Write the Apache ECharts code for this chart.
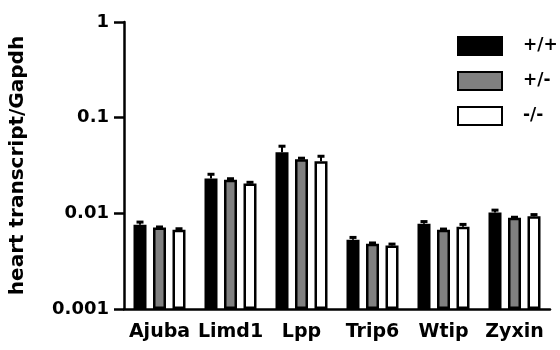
<!DOCTYPE html>
<html>
<head>
<meta charset="utf-8">
<script src="https://cdn.jsdelivr.net/npm/echarts@6/dist/echarts.min.js"></script>
<style>
  html, body { margin: 0; padding: 0; background: #fff; }
  #chart { width: 560px; height: 350px; }
</style>
</head>
<body>
<div id="chart"></div>
<script>
  // genes on the x axis
  var categories = ['Ajuba', 'Limd1', 'Lpp', 'Trip6', 'Wtip', 'Zyxin'];
  var seriesNames = ['+/+', '+/-', '-/-'];
  // mean transcript / Gapdh
  var wtMean = [0.0076, 0.0231, 0.0435, 0.0053, 0.0078, 0.0102];
  var hetMean = [0.0071, 0.0225, 0.0368, 0.0048, 0.00675, 0.0090];
  var koMean = [0.00675, 0.0205, 0.0350, 0.0046, 0.00726, 0.0093];
  // SEM (only upper half drawn)
  var wtSem = [0.0005, 0.0025, 0.0068, 0.0003, 0.0004, 0.0006];
  var hetSem = [0.0001, 0.0005, 0.0009, 0.0001, 0.0001, 0.0001];
  var koSem = [0.00015, 0.0006, 0.0045, 0.00017, 0.0004, 0.0004];
  var yTickLabels = ['0.001', '0.01', '0.1', '1'];

  var FONT = 'DejaVu Sans';
  var BAR_W = 13;
  var BAR_GAP = 0.5;
  var fills = ['#000000', '#808080', '#ffffff'];

  var chart = echarts.init(document.getElementById('chart'));

  function errData(mean, sem) {
    return mean.map(function (m, i) { return [i, m, m + sem[i]]; });
  }

  function errSeries(name, data, idx) {
    var off = (idx - 1) * BAR_W * (1 + BAR_GAP);
    return {
      name: name,
      type: 'custom',
      z: 5,
      data: data,
      encode: { x: 0, y: 2 },
      renderItem: function (params, api) {
        var top = api.coord([api.value(0), api.value(2)]);
        var bot = api.coord([api.value(0), api.value(1)]);
        var x = top[0] + off;
        return {
          type: 'group',
          children: [
            { type: 'line', shape: { x1: x, y1: bot[1], x2: x, y2: top[1] },
              style: { stroke: '#000', lineWidth: 2 } },
            { type: 'rect', shape: { x: x - 3.5, y: top[1] - 1.5, width: 7, height: 3 },
              style: { fill: '#000' } }
          ]
        };
      }
    };
  }

  function barSeries(name, data, idx) {
    return {
      name: name,
      type: 'bar',
      data: data,
      barWidth: BAR_W,
      barGap: (BAR_GAP * 100) + '%',
      itemStyle: { color: fills[idx], borderColor: '#000', borderWidth: 2.5 }
    };
  }

  var option = {
    animation: false,
    textStyle: { fontFamily: FONT },
    grid: { left: 124, right: 10, top: 22, bottom: 41, containLabel: false },
    legend: {
      data: seriesNames,
      orient: 'vertical',
      left: 457,
      top: 36,
      padding: 0,
      itemWidth: 44,
      itemHeight: 18,
      itemGap: 15,
      icon: 'rect',
      textStyle: { fontFamily: FONT, fontSize: 17, fontWeight: 'bold', color: '#000', padding: [0, 0, 0, 16] }
    },
    xAxis: {
      type: 'category',
      data: categories,
      axisLine: { lineStyle: { color: '#000', width: 2.5 } },
      axisTick: { alignWithLabel: true, length: 9, lineStyle: { color: '#000', width: 2.5 } },
      axisLabel: { interval: 0, color: '#000', fontFamily: FONT, fontSize: 19, fontWeight: 'bold', margin: 14 }
    },
    yAxis: {
      type: 'log',
      logBase: 10,
      min: 0.001,
      max: 1,
      startValue: 0.001,
      name: 'heart transcript/Gapdh',
      nameLocation: 'middle',
      nameGap: 96,
      nameTextStyle: { color: '#000', fontFamily: FONT, fontSize: 20, fontWeight: 'bold' },
      axisLine: { show: true, lineStyle: { color: '#000', width: 2.5 } },
      axisTick: { show: true, length: 10, lineStyle: { color: '#000', width: 2.5 } },
      splitLine: { show: false },
      minorTick: { show: false },
      axisLabel: {
        color: '#000', fontFamily: FONT, fontSize: 18, fontWeight: 'bold', margin: 15,
        formatter: function (v) { return yTickLabels[Math.round(Math.log10(v)) + 3]; }
      }
    },
    series: [
      barSeries(seriesNames[0], wtMean, 0),
      barSeries(seriesNames[1], hetMean, 1),
      barSeries(seriesNames[2], koMean, 2),
      errSeries('err+/+', errData(wtMean, wtSem), 0),
      errSeries('err+/-', errData(hetMean, hetSem), 1),
      errSeries('err-/-', errData(koMean, koSem), 2)
    ]
  };

  chart.setOption(option);
</script>
</body>
</html>
